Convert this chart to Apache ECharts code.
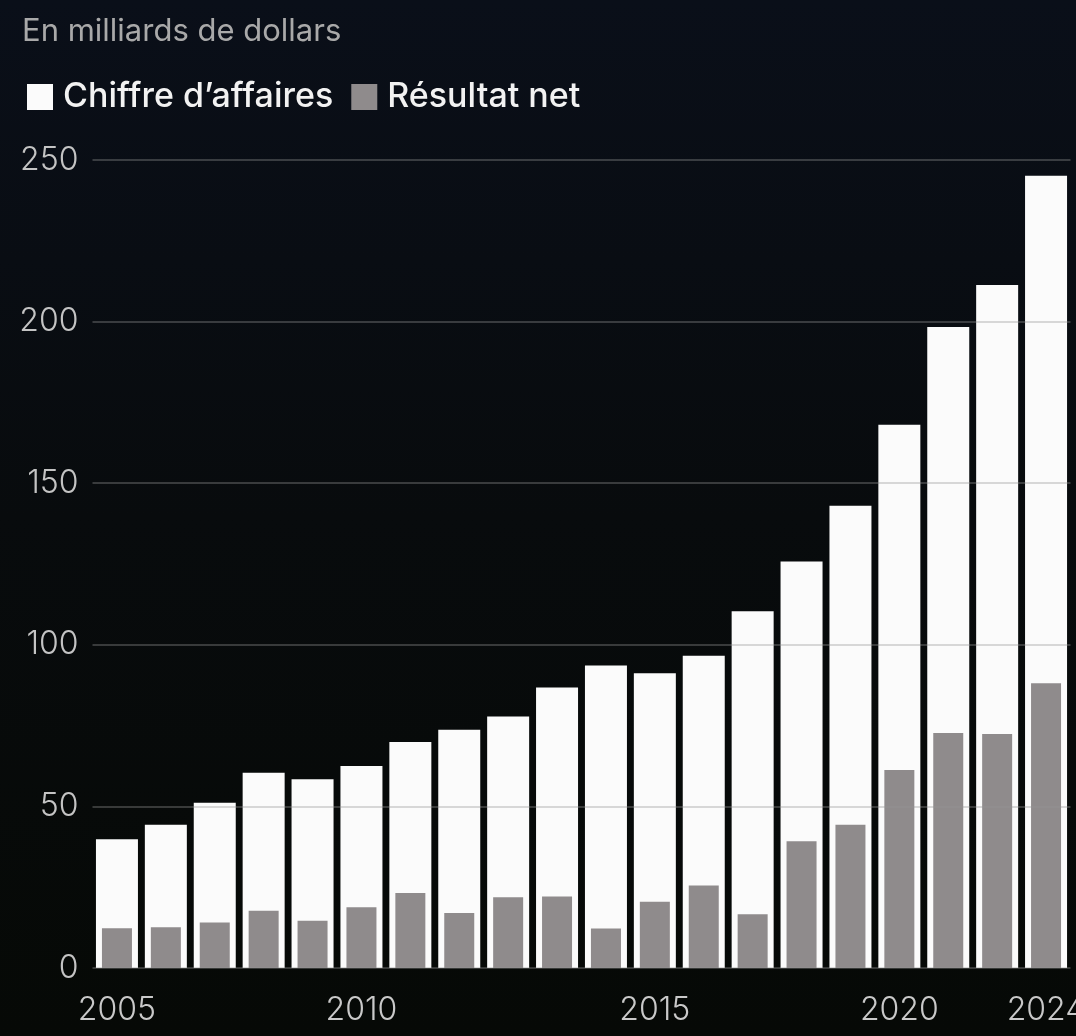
<!DOCTYPE html>
<html>
<head>
<meta charset="utf-8">
<script src="https://cdn.jsdelivr.net/npm/echarts@6/dist/echarts.min.js"></script>
<style>
  html, body {
    margin: 0;
    padding: 0;
    width: 100%;
    height: 100%;
    overflow: hidden;
  }
  #myChart {
    width: 1076px;
    height: 1036px;
  }
</style>
</head>
<body>
<div id="myChart"></div>
<script>
// Years shown as bars (one per fiscal year)
const years = ['2005', '2006', '2007', '2008', '2009', '2010', '2011', '2012', '2013', '2014',
  '2015', '2016', '2017', '2018', '2019', '2020', '2021', '2022', '2023', '2024'];

// Tick labels as placed under the bars in the picture (index -> text)
const xTickLabels = ['2005', '', '', '', '', '2010', '', '', '', '', '', '2015', '', '', '', '', '2020', '', '', '2024'];

// Chiffre d'affaires (billions of dollars)
const revenue = [39.8, 44.3, 51.1, 60.4, 58.4, 62.5, 69.9, 73.7, 77.8, 86.8,
  93.6, 91.2, 96.6, 110.4, 125.8, 143.0, 168.1, 198.3, 211.3, 245.1];

// Résultat net (billions of dollars)
const netIncome = [12.3, 12.6, 14.1, 17.7, 14.6, 18.8, 23.2, 17.0, 21.9, 22.1,
  12.2, 20.5, 25.5, 16.6, 39.2, 44.3, 61.3, 72.7, 72.4, 88.1];

const yTicks = [0, 50, 100, 150, 200, 250];

const chartDom = document.getElementById('myChart');
const myChart = echarts.init(chartDom);

const FONT = 'Inter, Roboto, "Noto Sans", sans-serif';

const option = {
  backgroundColor: {
    type: 'linear', x: 0, y: 0, x2: 0, y2: 1,
    colorStops: [
      { offset: 0, color: '#0a0f19' },
      { offset: 0.5, color: '#080b0d' },
      { offset: 1, color: '#060906' }
    ]
  },
  animation: false,
  title: {
    text: 'En milliards de dollars',
    left: 17,
    top: 11,
    textStyle: {
      color: '#a9a9a9',
      fontSize: 31,
      fontWeight: 'normal',
      fontFamily: FONT
    }
  },
  legend: {
    left: 22,
    top: 75,
    itemWidth: 26,
    itemHeight: 26,
    itemGap: 18,
    icon: 'rect',
    textStyle: {
      color: '#f2f2f2',
      fontSize: 34,
      fontWeight: 500,
      fontFamily: FONT,
      padding: [0, 0, 0, 5]
    },
    data: ['Chiffre d\u2019affaires', 'Résultat net']
  },
  grid: {
    left: 92.5,
    right: 5.5,
    top: 160,
    bottom: 68,
    outerBoundsMode: 'none'
  },
  xAxis: [
    {
      type: 'category',
      data: years,
      axisLine: { show: false },
      axisTick: { show: false },
      axisLabel: {
        interval: 0,
        margin: 26,
        color: '#c9c9c9',
        fontSize: 32,
        fontWeight: 300,
        fontFamily: FONT,
        formatter: (value, index) => xTickLabels[index]
      }
    },
    {
      type: 'category',
      data: years,
      show: false
    }
  ],
  yAxis: {
    type: 'value',
    min: yTicks[0],
    max: yTicks[yTicks.length - 1],
    interval: 50,
    z: 3,
    axisLine: { show: false },
    axisTick: { show: false },
    axisLabel: {
      margin: 14,
      color: '#c4c4c4',
      fontSize: 32,
      fontWeight: 300,
      fontFamily: FONT
    },
    splitLine: {
      lineStyle: { color: 'rgba(150,150,150,0.35)', width: 2 }
    }
  },
  series: [
    {
      name: 'Chiffre d\u2019affaires',
      type: 'bar',
      xAxisIndex: 0,
      data: revenue,
      barWidth: 42,
      itemStyle: { color: '#fbfbfb' }
    },
    {
      name: 'Résultat net',
      type: 'bar',
      xAxisIndex: 1,
      data: netIncome,
      barWidth: 30,
      itemStyle: { color: '#8f8b8c' }
    }
  ]
};

myChart.setOption(option);
window.addEventListener('resize', () => myChart.resize());
</script>
</body>
</html>
